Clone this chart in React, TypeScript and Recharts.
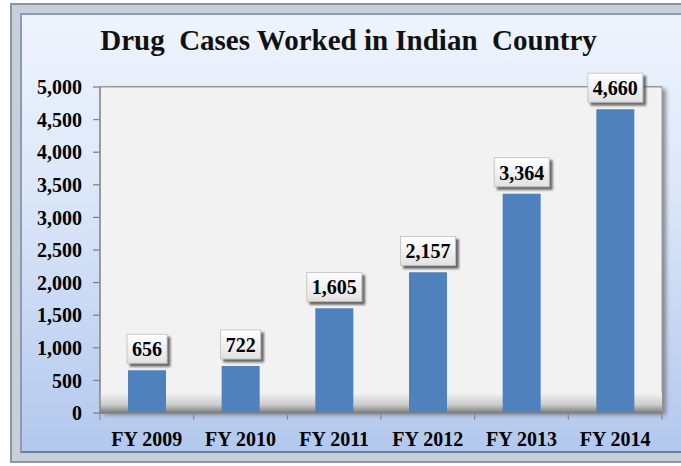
import React from 'react';
import * as R from 'recharts';
import { BarChart, Bar, XAxis, YAxis, CartesianGrid, LabelList } from 'recharts';

const categories = ['FY 2009', 'FY 2010', 'FY 2011', 'FY 2012', 'FY 2013', 'FY 2014'];
const caseCounts = [656, 722, 1605, 2157, 3364, 4660];
const yTicks = [0, 500, 1000, 1500, 2000, 2500, 3000, 3500, 4000, 4500, 5000];
const titleText = 'Drug  Cases Worked in Indian  Country';

const data = categories.map((c, i) => ({ year: c, cases: caseCounts[i] }));

const SERIF = "'Times New Roman', 'Liberation Serif', serif";
const fmt = (v: number) => v.toLocaleString('en-US');

function PlotDecor() {
  const usePA = (R as any).usePlotArea;
  const area = usePA ? usePA() : null;
  if (!area) return null;
  const { x, y, width, height } = area;
  const n = categories.length;
  const bottom = y + height;
  return (
    <g>
      <defs>
        <linearGradient id="floorGrad" x1="0" y1="0" x2="0" y2="1">
          <stop offset="0%" stopColor="#F2F2F2" />
          <stop offset="60%" stopColor="#CACACA" />
          <stop offset="100%" stopColor="#7A7A7A" />
        </linearGradient>
        <filter id="plotShadow" x="-5%" y="-5%" width="110%" height="110%">
          <feGaussianBlur stdDeviation="2" />
        </filter>
        <filter id="boxShadow" x="-30%" y="-30%" width="160%" height="160%">
          <feDropShadow dx="3" dy="3" stdDeviation="1.2" floodColor="#3A3A3A" floodOpacity="0.75" />
        </filter>
        <linearGradient id="boxGrad" x1="0" y1="0" x2="0" y2="1">
          <stop offset="0%" stopColor="#FFFFFF" />
          <stop offset="100%" stopColor="#E2E2E2" />
        </linearGradient>
      </defs>
      <rect x={x + 4} y={y + 2} width={width} height={height} fill="#6E6E6E" opacity={0.75} filter="url(#plotShadow)" />
      <rect x={x} y={y} width={width} height={height} fill="#F2F2F2" stroke="#9A9A9A" strokeWidth={1} />
      <rect x={x} y={bottom - 20} width={width} height={20} fill="url(#floorGrad)" />
      {Array.from({ length: n + 1 }, (_, i) => {
        const tx = x + (i * width) / n;
        return <line key={i} x1={tx} y1={bottom} x2={tx} y2={bottom + 7} stroke="#8A8A8A" strokeWidth={1.2} />;
      })}
    </g>
  );
}

function ValueLabel(props: any) {
  const { x, y, width, value } = props;
  const s = fmt(Number(value));
  const digits = s.replace(/[^0-9]/g, '').length;
  const commas = s.length - digits;
  const tw = (digits * 0.5 + commas * 0.25) * 20;
  const bw = tw + 10;
  const bh = 29;
  const cx = x + width / 2;
  const bottomY = y - 7;
  const top = bottomY - bh;
  return (
    <g>
      <rect x={cx - bw / 2} y={top} width={bw} height={bh} fill="url(#boxGrad)" stroke="#BDBDBD" strokeWidth={0.8} filter="url(#boxShadow)" />
      <text x={cx} y={top + 22} textAnchor="middle" fontFamily={SERIF} fontWeight="bold" fontSize={20} fill="#000">
        {s}
      </text>
    </g>
  );
}

export default function App() {
  return (
    <div style={{ position: 'absolute', left: 0, top: 0, width: 681, height: 466, overflow: 'hidden', background: '#FFFFFF' }}>
      <div
        style={{
          position: 'absolute',
          left: 10,
          top: 3,
          width: 700,
          height: 460,
          boxSizing: 'border-box',
          border: '2px solid #8F959C',
          background: '#C7CFDA',
          padding: 8,
        }}
      >
        <div
          style={{
            width: '100%',
            height: '100%',
            boxSizing: 'border-box',
            borderTop: '2px solid #8B9BB5',
            borderLeft: '2px solid #8B9BB5',
            borderBottom: '2px solid #6D7F9E',
            background: 'linear-gradient(to bottom, #EEF4FD 0%, #DCE7F8 40%, #B3C8EE 100%)',
          }}
        />
      </div>
      <div
        style={{
          position: 'absolute',
          left: 0,
          width: 697,
          top: 23,
          textAlign: 'center',
          whiteSpace: 'pre',
          fontFamily: SERIF,
          fontWeight: 'bold',
          fontSize: 29,
          lineHeight: '34px',
          color: '#111',
        }}
      >
        {titleText}
      </div>
      <div style={{ position: 'absolute', left: 0, top: 0 }}>
        <BarChart width={681} height={466} data={data} margin={{ top: 87, right: 19, bottom: 13, left: 10 }}>
          <PlotDecor />
          <CartesianGrid vertical={false} stroke="#858585" strokeWidth={1.3} />
          <YAxis
            domain={[0, 5000]}
            ticks={yTicks}
            interval={0}
            width={90}
            tickFormatter={fmt}
            tick={{ fontFamily: SERIF, fontWeight: 'bold', fontSize: 20, fill: '#000' }}
            tickSize={7}
            tickMargin={11}
            tickLine={{ stroke: '#858585', strokeWidth: 1.3 }}
            axisLine={{ stroke: '#858585', strokeWidth: 1.3 }}
          />
          <XAxis
            dataKey="year"
            height={40}
            interval={0}
            tickLine={false}
            axisLine={{ stroke: '#858585', strokeWidth: 1.3 }}
            tickSize={8}
            tickMargin={11}
            tick={{ fontFamily: SERIF, fontWeight: 'bold', fontSize: 20, fill: '#000' }}
          />
          <Bar dataKey="cases" fill="#4F81BD" barSize={38} isAnimationActive={false}>
            <LabelList dataKey="cases" content={<ValueLabel />} />
          </Bar>
        </BarChart>
      </div>
    </div>
  );
}
